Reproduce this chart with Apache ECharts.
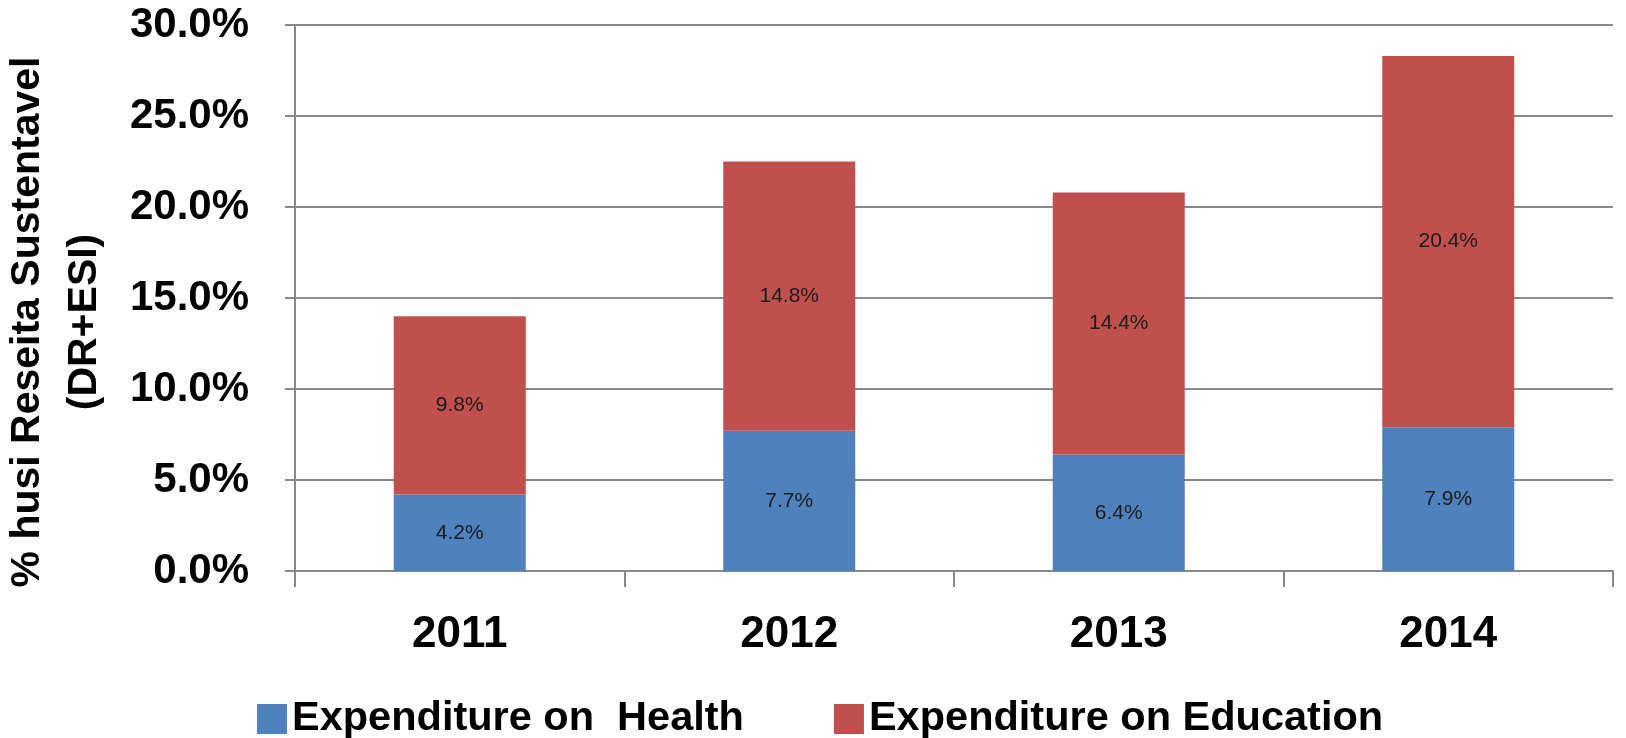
<!DOCTYPE html>
<html>
<head>
<meta charset="utf-8">
<script src="https://cdn.jsdelivr.net/npm/echarts@6/dist/echarts.min.js"></script>
<style>
  html, body { margin: 0; padding: 0; background: #fff; }
  #main { width: 1626px; height: 738px; }
</style>
</head>
<body>
<div id="main"></div>
<script>
// years on the x axis
const years = ['2011', '2012', '2013', '2014'];
// share of sustainable revenue, percent
const health = [4.2, 7.7, 6.4, 7.9];
const education = [9.8, 14.8, 14.4, 20.4];
const seriesNames = ['Expenditure on  Health', 'Expenditure on Education'];

const FONT = 'Liberation Sans, Arial, sans-serif';

const chart = echarts.init(document.getElementById('main'));

const barLabel = {
  show: true,
  position: 'inside',
  color: '#1a1a1a',
  fontFamily: FONT,
  fontSize: 21,
  formatter: p => p.value.toFixed(1) + '%'
};

chart.setOption({
  animation: false,
  grid: { left: 295, right: 13, top: 25, bottom: 167, outerBoundsMode: 'none' },
  legend: {
    top: 693,
    left: 252,
    itemWidth: 30,
    itemHeight: 30,
    itemGap: 90,
    icon: 'rect',
    textStyle: { fontFamily: FONT, fontSize: 41.5, fontWeight: 'bold', color: '#000' },
    data: seriesNames
  },
  xAxis: {
    type: 'category',
    data: years,
    axisLine: { lineStyle: { color: '#888', width: 2 } },
    axisTick: { show: true, length: 16, lineStyle: { color: '#888', width: 2 } },
    axisLabel: { fontFamily: FONT, fontSize: 44, fontWeight: 'bold', color: '#000', margin: 42 }
  },
  yAxis: {
    type: 'value',
    min: 0,
    max: 30,
    interval: 5,
    name: '% husi Reseita Sustentavel\n(DR+ESI)',
    nameLocation: 'middle',
    nameGap: 182,
    nameMoveOverlap: false,
    nameTextStyle: {
      fontFamily: FONT, fontSize: 41, fontWeight: 'bold', color: '#000', lineHeight: 57,
      padding: [0, 48, 0, 0]
    },
    axisLine: { show: true, lineStyle: { color: '#888', width: 2 } },
    axisTick: { show: true, length: 10, lineStyle: { color: '#888', width: 2 } },
    splitLine: { lineStyle: { color: '#888', width: 2 } },
    axisLabel: {
      fontFamily: FONT, fontSize: 42, fontWeight: 'bold', color: '#000', margin: 46,
      formatter: v => v.toFixed(1) + '%'
    }
  },
  series: [
    {
      name: seriesNames[0],
      type: 'bar',
      stack: 'total',
      barWidth: 132,
      data: health,
      itemStyle: { color: '#4F81BD' },
      label: barLabel
    },
    {
      name: seriesNames[1],
      type: 'bar',
      stack: 'total',
      barWidth: 132,
      data: education,
      itemStyle: { color: '#C0504D' },
      label: barLabel
    }
  ]
});

window.addEventListener('resize', () => chart.resize());
</script>
</body>
</html>
